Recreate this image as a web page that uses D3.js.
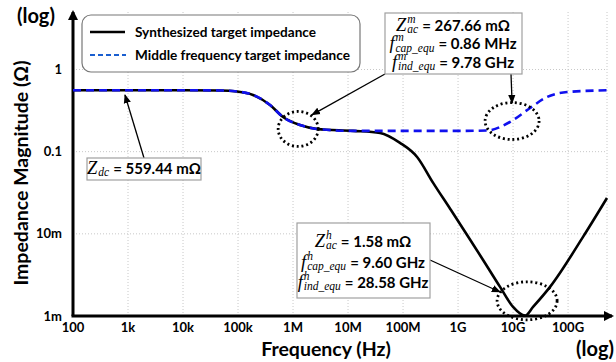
<!DOCTYPE html>
<html>
<head>
<meta charset="utf-8">
<script src="https://cdn.jsdelivr.net/npm/d3@7"></script>
<style>
  body { margin: 0; background: #fff; }
  svg { display: block; }
  .lbl { font-family: Lato, "Open Sans", sans-serif; font-weight: bold; fill: #000; }
  .math { font-family: "Liberation Serif", "DejaVu Serif", serif; font-style: italic; fill: #000; }
</style>
</head>
<body>
<svg id="chart" width="616" height="362"></svg>
<script>
"use strict";

// axis ticks
const freqTicks = [1e2, 1e3, 1e4, 1e5, 1e6, 1e7, 1e8, 1e9, 1e10, 1e11];
const freqTickLabels = ["100", "1k", "10k", "100k", "1M", "10M", "100M", "1G", "10G", "100G"];
const zTicks = [1e-3, 1e-2, 1e-1, 1];
const zTickLabels = ["1m", "10m", "0.1", "1"];

// synthesized target impedance (black)
const synthFreq = [1e2, 1e4, 4.7e4, 9.6e4, 1.87e5, 3.82e5, 6.58e5, 1.34e6, 2.73e6, 1.23e7, 3.82e7,
  8.8e7, 1.8e8, 3.5e8, 7.2e8, 1.46e9, 2.85e9, 5.8e9, 1e10, 1.65e10, 2.31e10, 4.7e10, 1.87e11, 5.1e11];
const synthZ = [0.559, 0.559, 0.556, 0.540, 0.49, 0.370, 0.264, 0.211, 0.189, 0.179, 0.169,
  0.128, 0.0862, 0.042, 0.0201, 0.0097, 0.00481, 0.00226, 0.00129, 0.00101, 0.00129, 0.00226, 0.00917, 0.0273];

// middle frequency target impedance (blue dashed)
const midFreq = [1e2, 1e4, 4.7e4, 9.6e4, 1.87e5, 3.82e5, 6.58e5, 1.34e6, 2.73e6, 1.23e7, 1e8,
  1e9, 3.37e9, 8.8e9, 2.04e10, 4.15e10, 9.6e10, 5.1e11];
const midZ = [0.559, 0.559, 0.556, 0.540, 0.49, 0.370, 0.264, 0.211, 0.189, 0.179, 0.179,
  0.179, 0.181, 0.23, 0.34, 0.463, 0.532, 0.559];

const legendLabels = ["Synthesized target impedance", "Middle frequency target impedance"];

const svg = d3.select("#chart");

const x = d3.scaleLog().domain([1e2, 5.1e11]).range([73, 607]);
const y = d3.scaleLog().domain([1e-3, 1]).range([316, 69.5]);
const yTop = y.invert(12);

// grid
const grid = svg.append("g").attr("stroke", "#c8c8c8").attr("stroke-dasharray", "1,2").attr("stroke-width", 1);
grid.selectAll(".gx").data(freqTicks.slice(1).concat([5.1e11])).join("line")
  .attr("x1", d => x(d)).attr("x2", d => x(d)).attr("y1", y(yTop)).attr("y2", y(1e-3));
grid.selectAll(".gy").data(zTicks.slice(1)).join("line")
  .attr("x1", x(1e2)).attr("x2", x(5.1e11)).attr("y1", d => y(d)).attr("y2", d => y(d));

// axes
svg.append("defs").append("marker").attr("id", "bigArrow")
  .attr("viewBox", "0 0 10 10").attr("refX", 8).attr("refY", 5)
  .attr("markerWidth", 3.4).attr("markerHeight", 3.4).attr("orient", "auto")
  .append("path").attr("d", "M0,0 L10,5 L0,10 z").attr("fill", "#000");
svg.select("defs").append("marker").attr("id", "smallArrow")
  .attr("viewBox", "0 0 10 10").attr("refX", 9).attr("refY", 5)
  .attr("markerWidth", 7).attr("markerHeight", 7).attr("orient", "auto")
  .append("path").attr("d", "M0,1 L10,5 L0,9 z").attr("fill", "#000");

svg.append("line").attr("x1", x(1e2)).attr("y1", y(1e-3)).attr("x2", x(1e2)).attr("y2", y(yTop))
  .attr("stroke", "#000").attr("stroke-width", 3).attr("marker-end", "url(#bigArrow)");
svg.append("line").attr("x1", x(1e2) - 1.5).attr("y1", y(1e-3)).attr("x2", 612).attr("y2", y(1e-3))
  .attr("stroke", "#000").attr("stroke-width", 3).attr("marker-end", "url(#bigArrow)");

svg.append("g").selectAll("text").data(freqTicks).join("text").attr("class", "lbl")
  .attr("x", d => x(d)).attr("y", 331.5).attr("text-anchor", "middle").attr("font-size", 13)
  .text((d, i) => freqTickLabels[i]);
svg.append("g").selectAll("text").data(zTicks).join("text").attr("class", "lbl")
  .attr("x", 62).attr("y", d => y(d) + 4.5).attr("text-anchor", "end").attr("font-size", 13)
  .text((d, i) => zTickLabels[i]);

// axis titles
svg.append("text").attr("class", "lbl").attr("font-size", 20).attr("x", 17).attr("y", 23).text("(log)");
svg.append("text").attr("class", "lbl").attr("font-size", 20).attr("x", 614).attr("y", 356)
  .attr("text-anchor", "end").text("(log)");
svg.append("text").attr("class", "lbl").attr("font-size", 19.5).attr("x", 326).attr("y", 355.5)
  .attr("text-anchor", "middle").text("Frequency (Hz)");
svg.append("text").attr("class", "lbl").attr("font-size", 19.5)
  .attr("transform", "translate(28,173) rotate(-90)").attr("text-anchor", "middle")
  .text("Impedance Magnitude (Ω)");

// curves
const line = d3.line().x(d => x(d[0])).y(d => y(d[1])).curve(d3.curveMonotoneX);
svg.append("path").datum(d3.zip(synthFreq, synthZ)).attr("d", line)
  .attr("fill", "none").attr("stroke", "#000").attr("stroke-width", 2.6);
svg.append("path").datum(d3.zip(midFreq, midZ)).attr("d", line)
  .attr("fill", "none").attr("stroke", "#1010ee").attr("stroke-width", 2.6).attr("stroke-dasharray", "8,5");

// dotted ellipses
const rings = [[1.24e6, 0.189, 20, 17.5], [9.6e9, 0.236, 27, 18.5], [1.8e10, 0.00153, 30, 19]];
svg.append("g").selectAll("ellipse").data(rings).join("ellipse")
  .attr("cx", d => x(d[0])).attr("cy", d => y(d[1])).attr("rx", d => d[2]).attr("ry", d => d[3])
  .attr("fill", "none").attr("stroke", "#000").attr("stroke-width", 2.8).attr("stroke-dasharray", "2,2.8");

// pointer arrows: [from px, from py, to freq, to Z]
const pointers = [[144, 158, 881, 0.49], [385, 74, 2.2e6, 0.28], [511, 74, 9.6e9, 0.391], [430, 260, 5.8e9, 0.00196]];
svg.append("g").selectAll("line").data(pointers).join("line")
  .attr("x1", d => d[0]).attr("y1", d => d[1]).attr("x2", d => x(d[2])).attr("y2", d => y(d[3]))
  .attr("stroke", "#000").attr("stroke-width", 1.3).attr("marker-end", "url(#smallArrow)");

// legend
const leg = svg.append("g");
leg.append("rect").attr("x", 82).attr("y", 15).attr("width", 278).attr("height", 57).attr("rx", 9)
  .attr("fill", "#fff").attr("stroke", "#777").attr("stroke-width", 1.2);
leg.append("line").attr("x1", 90).attr("x2", 125).attr("y1", 32).attr("y2", 32)
  .attr("stroke", "#000").attr("stroke-width", 2.4);
leg.append("line").attr("x1", 90).attr("x2", 126).attr("y1", 55).attr("y2", 55)
  .attr("stroke", "#1a5fd0").attr("stroke-width", 2.2).attr("stroke-dasharray", "5,3");
leg.selectAll("text").data(legendLabels).join("text").attr("class", "lbl").attr("font-size", 13.6)
  .attr("x", 135).attr("y", (d, i) => 37 + i * 23).text(d => d);

// annotation boxes
function mathLine(g, cx, cy, base, sup, sub, rest) {
  const row = g.append("g");
  const b = row.append("text").attr("class", "math").attr("font-size", 18.5).attr("y", 5.5).text(base);
  const bw = b.node().getComputedTextLength();
  let sw = 0;
  if (sup) {
    const t = row.append("text").attr("class", "math").attr("font-size", 11.5).attr("x", bw + 1).attr("y", -2.5).text(sup);
    sw = Math.max(sw, t.node().getComputedTextLength());
  }
  if (sub) {
    const t = row.append("text").attr("class", "math").attr("font-size", 11.5).attr("x", bw + 1).attr("y", 8).text(sub);
    sw = Math.max(sw, t.node().getComputedTextLength());
  }
  const r = row.append("text").attr("class", "lbl").attr("font-size", 15).attr("x", bw + sw + 5).attr("y", 5.5).text(rest);
  const w = bw + sw + 5 + r.node().getComputedTextLength();
  row.attr("transform", `translate(${cx - w / 2},${cy})`);
}

function box(x0, y0, w, h) {
  const g = svg.append("g");
  g.append("rect").attr("x", x0).attr("y", y0).attr("width", w).attr("height", h)
    .attr("fill", "#fff").attr("stroke", "#a0a0a0").attr("stroke-width", 1.2);
  return g;
}

const bm = box(385, 13, 137, 61);
mathLine(bm, 453, 25, "Z", "m", "ac", "= 267.66 mΩ");
mathLine(bm, 453, 43.5, "f", "m", "cap_equ", "= 0.86 MHz");
mathLine(bm, 453, 62, "f", "m", "ind_equ", "= 9.78 GHz");

const bd = box(87, 158, 114, 22);
mathLine(bd, 144, 168, "Z", null, "dc", " = 559.44 mΩ");

const bh = box(297, 223, 133, 75);
mathLine(bh, 363, 241, "Z", "h", "ac", "= 1.58 mΩ");
mathLine(bh, 363, 262, "f", "h", "cap_equ", "= 9.60 GHz");
mathLine(bh, 363, 282, "f", "h", "ind_equ", "= 28.58 GHz");
</script>
</body>
</html>
